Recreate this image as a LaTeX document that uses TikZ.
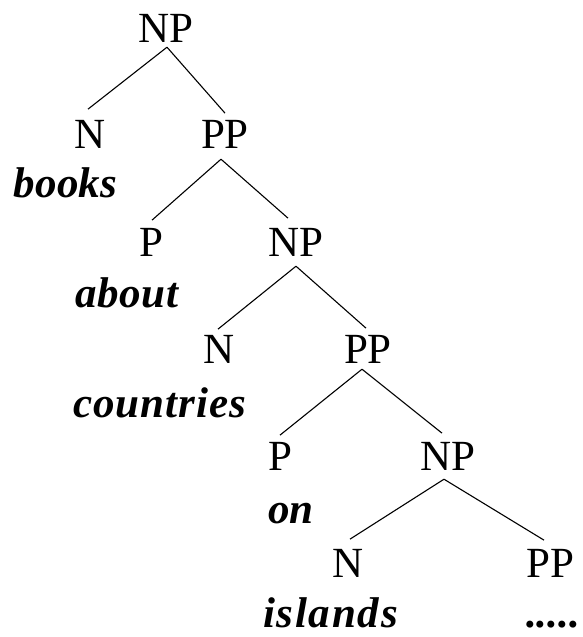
\documentclass[tikz,border=0pt]{standalone}
\usepackage{fontspec}
\setmainfont{Liberation Serif}
\newfontfamily\treefont{Liberation Serif}
\begin{document}
\begin{tikzpicture}[x=1pt,y=-1pt,
  cat/.style={anchor=base,inner sep=0pt,font=\treefont\fontsize{43}{50}\selectfont},
  word/.style={anchor=base west,inner sep=0pt,font=\treefont\fontsize{43}{50}\selectfont\bfseries\itshape},
  edge/.style={draw=black,line width=1.1pt}]
\useasboundingbox (0,0) rectangle (583,637);
% categories
\node[cat] (np1) at (165.5,42) {NP};
\node[cat] (n1) at (90,148) {N};
\node[cat] (pp1) at (225,148) {PP};
\node[cat] (p2) at (151,256) {P};
\node[cat] (np2) at (296,256) {NP};
\node[cat] (n3) at (219,363) {N};
\node[cat] (pp3) at (368,363) {PP};
\node[cat] (p4) at (280,470) {P};
\node[cat] (np4) at (448,470) {NP};
\node[cat] (n5) at (348,577) {N};
\node[cat] (pp5) at (550,577) {PP};
% words
\node[word] (w1) at (13,197) {\addfontfeature{LetterSpace=1}books};
\node[word] (w2) at (75,307) {\addfontfeature{LetterSpace=1.5}about};
\node[word] (w3) at (73,417) {\addfontfeature{LetterSpace=2.5}countries};
\node[word] (w4) at (268,523) {on};
\node[word] (w5) at (263,627) {\addfontfeature{LetterSpace=4}islands};
\node[word,anchor=base east] (w6) at (580,627) {.....};
% edges
\draw[edge] ([shift={(1.5,5)}]np1.south) -- ([shift={(-2,-10.5)}]n1.north);
\draw[edge] ([shift={(1.5,5)}]np1.south) -- ([shift={(0,-6.5)}]pp1.north);
\draw[edge] ([shift={(-4,11)}]pp1.south) -- ([shift={(1,-7.5)}]p2.north);
\draw[edge] ([shift={(-4,11)}]pp1.south) -- ([shift={(-8,-9.5)}]np2.north);
\draw[edge] ([shift={(0,10)}]np2.south) -- ([shift={(-1,-5.5)}]n3.north);
\draw[edge] ([shift={(0,10)}]np2.south) -- ([shift={(-2,-6.5)}]pp3.north);
\draw[edge] ([shift={(-6,6)}]pp3.south) -- ([shift={(0,-6.5)}]p4.north);
\draw[edge] ([shift={(-6,6)}]pp3.south) -- ([shift={(-6,-8.5)}]np4.north);
\draw[edge] ([shift={(-4,9)}]np4.south) -- ([shift={(2,-9.5)}]n5.north);
\draw[edge] ([shift={(-4,9)}]np4.south) -- ([shift={(-6,-8.5)}]pp5.north);
\end{tikzpicture}
\end{document}
